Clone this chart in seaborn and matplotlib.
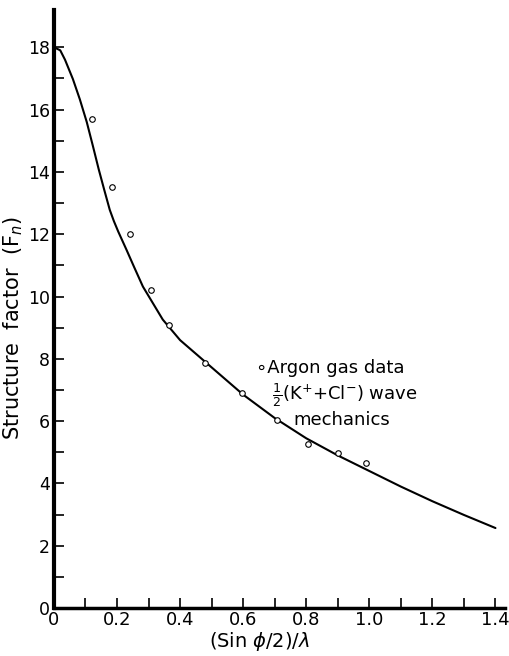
import numpy as np
import pandas as pd
import seaborn as sns
import matplotlib.pyplot as plt

sns.set_style("ticks")
plt.rcParams['font.family'] = ['DejaVu Sans']
plt.rcParams['text.color'] = 'black'
plt.rcParams['axes.labelcolor'] = 'black'

# Argon gas data
argon_x = [0.12, 0.184, 0.24, 0.307, 0.364, 0.478, 0.595, 0.706, 0.804, 0.90, 0.99]
argon_y = [15.7, 13.5, 12.0, 10.2, 9.1, 7.88, 6.9, 6.04, 5.27, 4.98, 4.66]

# 1/2 (K+ + Cl-) wave mechanics curve
curve_x = [0, 0.02, 0.035, 0.06, 0.082, 0.104, 0.123, 0.142, 0.159, 0.177, 0.19,
           0.204, 0.23, 0.254, 0.282, 0.345, 0.40, 0.44, 0.52, 0.60, 0.70, 0.80,
           0.90, 1.00, 1.10, 1.20, 1.30, 1.40]
curve_y = [18.0, 17.9, 17.6, 16.98, 16.33, 15.6, 14.85, 14.08, 13.44, 12.78, 12.42,
           12.08, 11.5, 10.95, 10.32, 9.26, 8.6, 8.25, 7.55, 6.85, 6.1, 5.45,
           4.9, 4.4, 3.9, 3.43, 2.99, 2.57]

curve = pd.DataFrame({"s": curve_x, "F": curve_y})
argon = pd.DataFrame({"s": argon_x, "F": argon_y})

fig = plt.figure(figsize=(5.09, 6.56), dpi=100)
ax = fig.add_axes([0.106, 0.073, 0.886, 0.912])

sns.lineplot(data=curve, x="s", y="F", ax=ax, color="black", lw=1.5, sort=False)
sns.scatterplot(data=argon, x="s", y="F", ax=ax, marker="o", s=16,
                facecolor="white", edgecolor="black", linewidth=0.8, zorder=3)

ax.set_xlim(0, 1.43)
ax.set_ylim(0, 19.2)
ax.set_xticks(np.arange(0, 1.41, 0.2))
ax.set_xticklabels(["0", "0.2", "0.4", "0.6", "0.8", "1.0", "1.2", "1.4"])
ax.set_xticks(np.arange(0.1, 1.41, 0.2), minor=True)
ax.set_yticks(np.arange(0, 19, 2))
ax.set_yticks(np.arange(1, 19, 2), minor=True)
ax.tick_params(axis="both", which="both", direction="in", width=1.2,
               labelsize=13, colors="black")
ax.tick_params(axis="y", labelsize=12.5)
ax.tick_params(which="major", length=7)
ax.tick_params(which="minor", length=7)
ax.tick_params(axis="x", pad=2)
ax.tick_params(axis="y", pad=3)

for side in ["top", "right"]:
    ax.spines[side].set_visible(False)
ax.spines["left"].set_linewidth(3)
ax.spines["bottom"].set_linewidth(2.5)
ax.spines["left"].set_color("black")
ax.spines["bottom"].set_color("black")

ax.set_xlabel(r"(Sin $\phi$/2)/$\lambda$", fontsize=14)
ax.xaxis.set_label_coords(0.455, -0.037)
ax.set_ylabel(r"Structure  factor  (F$_n$)", fontsize=15)
ax.yaxis.set_label_coords(-0.064, 0.468)

ax.text(0.64, 7.72, "\u2218Argon gas data", fontsize=13, va="center", ha="left")
ax.text(0.69, 6.85, r"$\frac{1}{2}$(K$^{+}$+Cl$^{-}$) wave", fontsize=13,
        va="center", ha="left")
ax.text(0.76, 6.05, "mechanics", fontsize=13, va="center", ha="left")

fig.savefig("out.png", dpi=100)
